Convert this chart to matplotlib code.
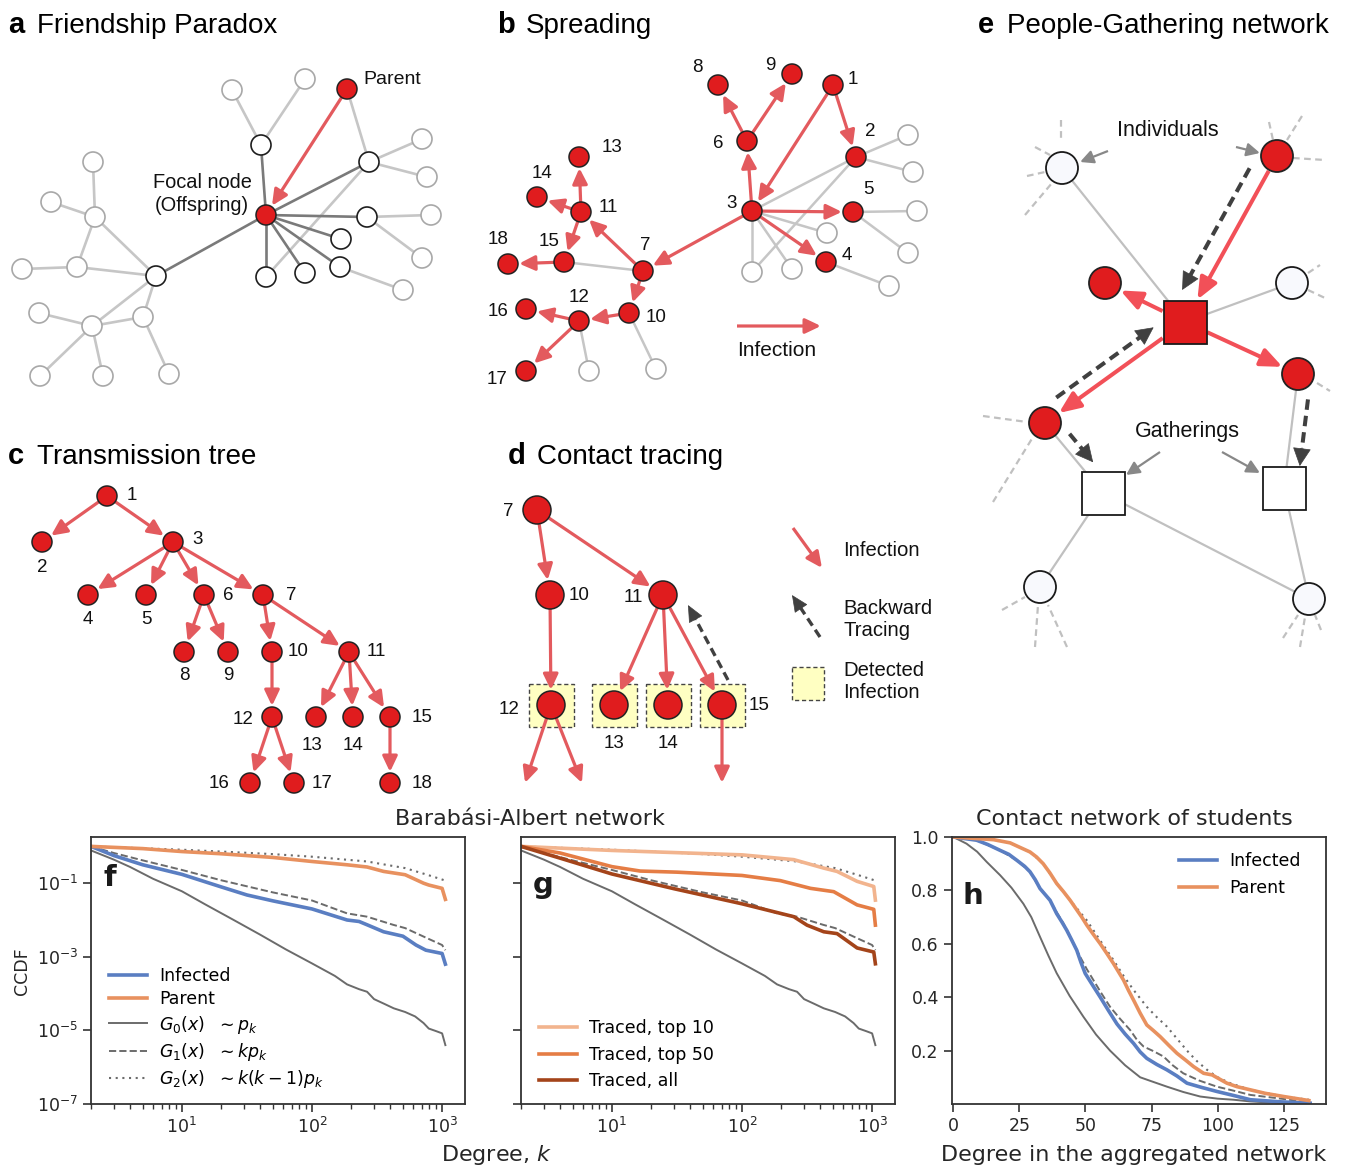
import numpy as np
import matplotlib
matplotlib.use("Agg")
import matplotlib.pyplot as plt
from matplotlib.patches import Circle, Rectangle, FancyArrowPatch
from matplotlib.ticker import NullLocator

W, H = 1349, 1169

# ---------------- diagram data (pixel layout) ----------------
# a: friendship paradox
a_nodes = {
    'P': (347, 89), 'F': (266, 215),
    'f1': (261, 145), 'f2': (369, 162), 'f3': (367, 217), 'f4': (341, 239),
    'f5': (340, 267), 'f6': (305, 273), 'f7': (266, 277), 'f8': (156, 276),
    'o1': (232, 90), 'o2': (305, 79), 'o3': (422, 139), 'o4': (427, 177),
    'o5': (431, 215), 'o6': (422, 258), 'o7': (403, 290),
    'o8': (95, 217), 'o9': (93, 162), 'o10': (51, 202), 'o11': (77, 267),
    'o12': (22, 269), 'o13': (92, 326), 'o14': (39, 313), 'o15': (143, 317),
    'o16': (40, 376), 'o17': (103, 376), 'o18': (169, 374),
}
a_friends = ['f1', 'f2', 'f3', 'f4', 'f5', 'f6', 'f7', 'f8']
a_links = [('f1', 'o1'), ('f1', 'o2'), ('P', 'f2'), ('f2', 'o3'), ('f2', 'o4'),
           ('f3', 'o5'), ('f3', 'o6'), ('f5', 'o7'), ('f7', 'f2'),
           ('o8', 'o9'), ('o8', 'o10'), ('o8', 'o11'), ('o8', 'f8'),
           ('o11', 'o12'), ('o11', 'f8'), ('f8', 'o13'), ('f8', 'o15'),
           ('o13', 'o14'), ('o13', 'o15'), ('o13', 'o16'), ('o13', 'o17'),
           ('o15', 'o18')]

# transmission tree shared by b and c
tree = [(1, 2), (1, 3), (3, 4), (3, 5), (3, 6), (3, 7), (6, 8), (6, 9),
        (7, 10), (7, 11), (10, 12), (11, 13), (11, 14), (11, 15),
        (12, 16), (12, 17), (15, 18)]

# b: spreading on the network
b_nodes = {1: (833, 85), 2: (856, 157), 3: (752, 211), 4: (826, 262),
           5: (853, 212), 6: (747, 141), 7: (643, 271), 8: (718, 85),
           9: (792, 74), 10: (629, 313), 11: (581, 212), 12: (579, 321),
           13: (579, 157), 14: (537, 197), 15: (564, 262), 16: (526, 309),
           17: (526, 371), 18: (508, 264)}
b_labels = {1: (853, 80), 2: (870, 132), 3: (732, 203), 4: (847, 255),
            5: (868, 190), 6: (718, 143), 7: (645, 246), 8: (697, 67),
            9: (770, 65), 10: (656, 318), 11: (608, 207), 12: (579, 298),
            13: (612, 147), 14: (542, 174), 15: (549, 242), 16: (498, 312),
            17: (497, 380), 18: (498, 239)}
b_healthy = [(908, 135), (913, 172), (917, 211), (908, 253), (827, 233),
             (792, 269), (752, 272), (889, 286), (589, 371), (656, 369)]
b_contacts = [(2, 0), (2, 1), (5, 2), (5, 3), (3, 4), (3, 5), (3, 6),
              (2, 6), (4, 7), (12, 8), (10, 9)]
b_plain = [(3, 2), (15, 7)]

# c: transmission tree layout
c_nodes = {1: (107, 496), 2: (42, 542), 3: (173, 542), 4: (88, 595),
           5: (146, 595), 6: (204, 595), 7: (263, 595), 8: (184, 652),
           9: (228, 652), 10: (272, 652), 11: (349, 652), 12: (272, 717),
           13: (316, 717), 14: (353, 717), 15: (390, 717), 16: (250, 783),
           17: (294, 783), 18: (390, 783)}
c_labels = {1: (132, 496), 2: (42, 567), 3: (198, 540), 4: (88, 619),
            5: (146, 619), 6: (228, 595), 7: (291, 596), 8: (184, 676),
            9: (228, 676), 10: (298, 652), 11: (376, 652), 12: (243, 719),
            13: (312, 745), 14: (353, 745), 15: (422, 718), 16: (219, 783),
            17: (322, 783), 18: (422, 783)}

# d: contact tracing
d_nodes = {7: (537, 510), 10: (550, 595), 11: (663, 595), 12: (551, 705),
           13: (614, 705), 14: (668, 705), 15: (722, 705)}
d_labels = {7: (508, 511), 10: (579, 596), 11: (633, 597), 12: (509, 710),
            13: (614, 744), 14: (668, 744), 15: (759, 705)}
d_tree = [(7, 10), (7, 11), (10, 12), (11, 13), (11, 14), (11, 15)]
d_detected = [12, 13, 14, 15]
d_onward = [(12, (525, 783)), (12, (582, 783)), (15, (722, 783))]

# e: people-gathering network
e_people = {'w1': (1062, 168), 'r1': (1277, 156), 'r2': (1105, 283),
            'w2': (1292, 283), 'r3': (1298, 374), 'r4': (1045, 423),
            'w3': (1040, 587), 'w4': (1309, 599)}
e_infected = ['r1', 'r2', 'r3', 'r4']
e_gatherings = {'g0': (1185, 322), 'g1': (1103, 493), 'g2': (1284, 488)}
e_links = [('w1', 'g0'), ('w2', 'g0'), ('r3', 'g2'), ('r4', 'g1'),
           ('w3', 'g1'), ('w4', 'g1'), ('w4', 'g2')]
e_infections = [('r1', 'g0'), ('g0', 'r2'), ('g0', 'r3'), ('g0', 'r4')]
e_traces = [('r1', 'g0', -18), ('r4', 'g0', 14), ('r4', 'g1', 12), ('r3', 'g2', 13)]
e_stubs = [((1061, 120), (1061, 140)), ((1035, 147), (1050, 155)),
           ((1027, 176), (1045, 172)), ((1025, 215), (1052, 183)),
           ((1269, 122), (1273, 140)), ((1302, 116), (1287, 140)),
           ((1293, 158), (1325, 160)), ((1308, 273), (1320, 265)),
           ((1308, 290), (1325, 298)), ((1317, 383), (1330, 391)),
           ((983, 416), (1027, 422)), ((993, 502), (1033, 437)),
           ((1002, 610), (1025, 597)), ((1035, 647), (1038, 605)),
           ((1067, 647), (1048, 605)), ((1283, 638), (1298, 615)),
           ((1300, 647), (1305, 617)), ((1321, 630), (1315, 615))]

# ---------------- CCDF data (log10 values) ----------------
k_g0 = [2, 3, 4, 6, 10, 15, 25, 40, 63, 100, 150, 186, 230, 265, 300, 360,
        425, 520, 620, 720, 790, 900, 1000, 1060]
lg_g0 = [-0.11, -0.36, -0.56, -0.88, -1.22, -1.57, -2.00, -2.40, -2.80, -3.18,
         -3.52, -3.75, -3.88, -3.95, -4.15, -4.28, -4.40, -4.50, -4.62, -4.80,
         -4.95, -5.02, -5.08, -5.40]
k_g1 = [2, 3, 5, 10, 20, 50, 100, 186, 265, 420, 520, 720, 1000, 1060]
lg_g1 = [0.0, -0.18, -0.38, -0.64, -0.92, -1.25, -1.47, -1.82, -1.91, -2.13,
         -2.22, -2.45, -2.68, -2.82]
k_g2 = [2, 10, 30, 50, 100, 265, 520, 767, 1000, 1060]
lg_g2 = [0.0, -0.09, -0.17, -0.21, -0.28, -0.41, -0.59, -0.77, -0.90, -0.93]
k_inf = [2, 3, 5, 10, 20, 31.6, 50, 100, 186, 230, 265, 355, 500, 630, 750,
         1000, 1060]
lg_inf = [0.0, -0.25, -0.50, -0.76, -1.10, -1.32, -1.48, -1.70, -2.00, -2.04,
          -2.13, -2.32, -2.44, -2.68, -2.82, -2.91, -3.20]
k_par = [2, 5, 10, 20, 50, 100, 186, 265, 355, 520, 720, 790, 1000, 1060]
lg_par = [0.0, -0.06, -0.14, -0.20, -0.30, -0.41, -0.50, -0.56, -0.68, -0.77,
          -1.00, -1.05, -1.14, -1.44]
k_top10 = [2, 10, 100, 250, 425, 538, 767, 1030, 1060]
lg_top10 = [0.0, -0.11, -0.23, -0.36, -0.59, -0.68, -0.95, -1.09, -1.46]
k_top50 = [2, 4, 6.4, 10, 16.5, 31.6, 100, 197, 336, 507, 767, 1030, 1060]
lg_top50 = [0.0, -0.18, -0.37, -0.55, -0.67, -0.70, -0.79, -0.93, -1.14,
            -1.23, -1.59, -1.71, -2.14]
k_all = [2, 4, 10, 30, 100, 250, 316, 425, 538, 767, 1030, 1060]
lg_all = [0.0, -0.32, -0.75, -1.15, -1.56, -1.91, -2.14, -2.32, -2.37, -2.76,
          -2.87, -3.19]

# contact network of students
h_deg_g0 = [0, 5, 9, 12.6, 17.7, 22, 26.5, 29.5, 32.8, 36, 39.1, 44, 49.2, 54,
            59.3, 65, 70.7, 75, 80.8, 87, 93.4, 100, 106, 112, 118.7, 126, 133.8]
h_g0 = [1.0, 0.975, 0.945, 0.907, 0.857, 0.81, 0.75, 0.70, 0.626, 0.555, 0.49,
        0.405, 0.327, 0.26, 0.20, 0.145, 0.10, 0.085, 0.065, 0.045, 0.028, 0.02,
        0.016, 0.01, 0.006, 0.004, 0.003]
h_deg_inf = [0, 8.8, 13, 17.7, 21, 24, 27, 29, 31, 32.8, 34.7, 36.6, 39.1, 41,
             42.9, 44.8, 46.7, 48.3, 49.9, 52.7, 55.6, 58.7, 61.9, 65, 68.2,
             70.7, 73.2, 77, 80.8, 84.6, 88.4, 94, 99.7, 106, 112.4, 124, 135]
h_inf = [1.0, 0.988, 0.972, 0.95, 0.935, 0.913, 0.89, 0.87, 0.84, 0.807, 0.785,
         0.763, 0.713, 0.683, 0.651, 0.614, 0.576, 0.53, 0.489, 0.445, 0.40,
         0.35, 0.30, 0.262, 0.227, 0.195, 0.171, 0.148, 0.128, 0.105, 0.078,
         0.062, 0.047, 0.032, 0.016, 0.008, 0.003]
h_deg_g1 = [0, 8.8, 17.7, 24, 29, 32.8, 36.6, 39, 41.7, 45, 48, 50.5, 53, 56,
            59.3, 63, 66.9, 69.5, 72, 75.7, 79.5, 83, 87, 93, 99.7, 106, 112.4,
            124, 135]
h_g1 = [1.0, 0.988, 0.95, 0.913, 0.87, 0.807, 0.763, 0.72, 0.676, 0.61, 0.551,
        0.505, 0.464, 0.415, 0.364, 0.32, 0.277, 0.24, 0.215, 0.198, 0.178,
        0.145, 0.115, 0.088, 0.065, 0.05, 0.034, 0.02, 0.006]
h_deg_par = [0, 15.2, 21.5, 25, 29, 31.5, 34, 36.5, 39.1, 41.7, 44.2, 46.5,
             48.6, 50.5, 53, 55.6, 58, 60.6, 62.5, 64.4, 66.3, 68.2, 70.7, 73.2,
             75.7, 78.3, 81.5, 84.6, 87.8, 90.9, 94.7, 97.9, 103.5, 107.3, 112.4,
             118, 125, 134.5]
h_par = [1.0, 0.99, 0.978, 0.962, 0.944, 0.925, 0.90, 0.866, 0.826, 0.795,
         0.763, 0.73, 0.70, 0.67, 0.635, 0.60, 0.565, 0.526, 0.495, 0.464,
         0.425, 0.389, 0.34, 0.296, 0.275, 0.252, 0.22, 0.19, 0.165, 0.14,
         0.115, 0.109, 0.078, 0.065, 0.053, 0.04, 0.028, 0.013]
h_deg_g2 = [0, 15.2, 21.5, 29, 34, 39.1, 44.2, 50.5, 55.6, 60.6, 64.4, 68.2,
            73.2, 77, 80.8, 84.6, 88.4, 92, 96, 100, 104.8, 112.4, 125, 134.5]
h_g2 = [1.0, 0.99, 0.978, 0.944, 0.90, 0.826, 0.763, 0.688, 0.612, 0.539, 0.48,
        0.427, 0.364, 0.325, 0.29, 0.245, 0.20, 0.162, 0.128, 0.10, 0.078,
        0.053, 0.028, 0.016]

# ---------------- styles ----------------
RED = '#e01c1e'
ARED = '#e35a5e'
ERED = '#f25058'
DARK = '#404040'
EDGE_D = '#7a7a7a'
EDGE_L = '#c6c6c6'
SANS = 'Liberation Sans'
BLUE = '#5a7ec2'
ORANGE = '#e8915f'
GRAY = '#6b6b6b'
TXT = '#262626'

plt.rcParams['font.family'] = 'DejaVu Sans'
plt.rcParams['mathtext.fontset'] = 'dejavusans'

fig = plt.figure(figsize=(W / 100, H / 100), dpi=100)
ax = fig.add_axes([0, 0, 1, 1])
ax.set_xlim(0, W)
ax.set_ylim(H, 0)
ax.axis('off')


def unit(p, q):
    d = np.subtract(q, p).astype(float)
    return d / np.hypot(*d)


def trim(p, q, ra, rb):
    u = unit(p, q)
    return tuple(np.add(p, u * ra)), tuple(np.subtract(q, u * rb))


def sq_gap(p, q, half=21.5):
    u = unit(p, q)
    return half / max(abs(u[0]), abs(u[1]))


def node(p, r=10, fc=RED, ec='#222222', lw=1.1, z=6):
    ax.add_patch(Circle(p, r, fc=fc, ec=ec, lw=lw, zorder=z))


def line(p, q, color=EDGE_L, lw=1.8, z=2, **kw):
    ax.plot([p[0], q[0]], [p[1], q[1]], color=color, lw=lw, zorder=z,
            solid_capstyle='butt', **kw)


def arrow(p, q, color=ARED, lw=2.2, hl=0.95, hw=0.45, ms=10, z=4):
    ax.add_patch(FancyArrowPatch(p, q, arrowstyle=f'-|>,head_length={hl},head_width={hw}',
                                 mutation_scale=ms, color=color, lw=lw, shrinkA=0,
                                 shrinkB=0, zorder=z, capstyle='butt'))


def dashed_arrow(p, q, color=DARK, lw=2.9, hl=1.2, hw=0.6, ms=10):
    u = unit(p, q)
    base = np.subtract(q, u * hl * ms * 100 / 72)
    ax.plot([p[0], base[0]], [p[1], base[1]], color=color, lw=lw, dashes=(2.6, 1.5),
            zorder=4, dash_capstyle='butt')
    arrow(tuple(base - u * 2), q, color=color, lw=0.5, hl=hl, hw=hw, ms=ms)


def label(p, s, size=13.5, **kw):
    kw.setdefault('ha', 'center')
    ax.text(p[0], p[1], s, fontsize=size, family=SANS, va='center', color='#111111', **kw)


def panel_title(x, letter, title, y=33):
    ax.text(x, y, letter, fontsize=21, fontweight='bold', family=SANS, va='baseline')
    ax.text(x + 29, y, title, fontsize=20, family=SANS, va='baseline')


# ---------------- a ----------------
panel_title(8, 'a', 'Friendship Paradox')
for s, t in a_links:
    line(a_nodes[s], a_nodes[t], color=EDGE_L, lw=1.9)
for f in a_friends:
    line(a_nodes['F'], a_nodes[f], color=EDGE_D, lw=1.9, z=3)
for name, p in a_nodes.items():
    if name in ('P', 'F'):
        node(p)
    elif name in a_friends:
        node(p, fc='white', ec='#1e1e1e', lw=1.2)
    else:
        node(p, fc='white', ec='#a8a8a8', lw=1.2)
s, e = trim(a_nodes['P'], a_nodes['F'], 10, 11)
arrow(s, e, lw=2.3)
label((363, 80), 'Parent', size=14, ha='left')
label((202, 194), 'Focal node\n(Offspring)', size=14.4, linespacing=1.25)

# ---------------- b ----------------
panel_title(497, 'b', 'Spreading')
for i, j in b_contacts:
    line(b_nodes[i], b_healthy[j])
for i, j in b_plain:
    line(b_nodes[i], b_nodes[j])
for p in b_healthy:
    node(p, fc='white', ec='#a8a8a8', lw=1.2)
for i, j in tree:
    s, e = trim(b_nodes[i], b_nodes[j], 10, 11)
    arrow(s, e, lw=2.3)
for i, p in b_nodes.items():
    node(p)
    label(b_labels[i], str(i))
arrow((737, 326), (821, 326), lw=2.3)
label((777, 350), 'Infection', size=15)

# ---------------- c ----------------
panel_title(8, 'c', 'Transmission tree', y=464)
for i, j in tree:
    s, e = trim(c_nodes[i], c_nodes[j], 10, 11)
    arrow(s, e, lw=2.3)
for i, p in c_nodes.items():
    node(p)
    label(c_labels[i], str(i))

# ---------------- d ----------------
panel_title(508, 'd', 'Contact tracing', y=464)
for i in d_detected:
    x, y = d_nodes[i]
    ax.add_patch(Rectangle((x - 22.5, y - 21.5), 45, 43, fc='#ffffc2', ec='#444444',
                           lw=1.0, ls=(0, (3, 2)), zorder=1))
for i, j in d_tree:
    s, e = trim(d_nodes[i], d_nodes[j], 14, 15)
    arrow(s, e, lw=2.3)
for i, q in d_onward:
    s, _ = trim(d_nodes[i], q, 14, 0)
    arrow(s, q, lw=2.3)
dashed_arrow((728, 680), (688, 605), lw=2.4, hl=1.1, hw=0.5)
for i, p in d_nodes.items():
    node(p, r=14)
    label(d_labels[i], str(i))
arrow((793, 528), (822, 568), lw=2.3)
label((843, 550), 'Infection', size=14.6, ha='left')
dashed_arrow((820, 637), (792, 595), lw=2.4, hl=1.1, hw=0.5)
label((843, 619), 'Backward\nTracing', size=14.6, ha='left', linespacing=1.2)
ax.add_patch(Rectangle((792, 667), 32, 33, fc='#ffffc2', ec='#444444', lw=1.0,
                       ls=(0, (3, 2)), zorder=1))
label((843, 681), 'Detected\nInfection', size=14.6, ha='left', linespacing=1.2)

# ---------------- e ----------------
panel_title(978, 'e', 'People-Gathering network')
e_all = {**e_people, **e_gatherings}
for p, q in e_stubs:
    line(p, q, color='#c0c0c0', lw=1.6, z=1, dashes=(3, 2))
for s, t in e_links:
    line(e_all[s], e_all[t], color='#c0c0c0', lw=1.6)


def gap(name, other):
    if name in e_gatherings:
        return sq_gap(e_all[name], e_all[other])
    return 16


for s, t in e_infections:
    p, q = trim(e_all[s], e_all[t], gap(s, t) + 1, gap(t, s) + 1)
    arrow(p, q, color=ERED, lw=2.9, hl=1.3, hw=0.55)
for s, t, off in e_traces:
    u = unit(e_all[s], e_all[t])
    n = np.array([u[1], -u[0]])
    p, q = trim(e_all[s], e_all[t], gap(s, t) + 8, gap(t, s) + 2)
    dashed_arrow(tuple(np.add(p, n * off)), tuple(np.add(q, n * off)))
for name, p in e_people.items():
    if name in e_infected:
        node(p, r=16, lw=1.3)
    else:
        node(p, r=16, fc='#f8f9fd', ec='#1a1a1a', lw=1.3)
for name, (x, y) in e_gatherings.items():
    ax.add_patch(Rectangle((x - 21.5, y - 21.5), 43, 43, fc=RED if name == 'g0' else 'white',
                           ec='#1a1a1a', lw=1.3, zorder=6))
label((1168, 131), 'Individuals', size=15.5)
label((1187, 432), 'Gatherings', size=15.5)
arrow((1108, 151), (1080, 162), color='#888888', lw=1.6, hl=0.8, hw=0.4)
arrow((1236, 147), (1260, 153), color='#888888', lw=1.6, hl=0.8, hw=0.4)
arrow((1160, 452), (1126, 475), color='#888888', lw=1.6, hl=0.8, hw=0.4)
arrow((1222, 452), (1260, 473), color='#888888', lw=1.6, hl=0.8, hw=0.4)

# ---------------- f, g, h ----------------
ax.text(530, 819, 'Barabási-Albert network', ha='center', va='center', fontsize=16, color=TXT)
ax.text(1134, 819, 'Contact network of students', ha='center', va='center', fontsize=16, color=TXT)
ax.text(497, 1155, 'Degree, $k$', ha='center', va='center', fontsize=16, color=TXT)
ax.text(1134, 1155, 'Degree in the aggregated network', ha='center', va='center',
        fontsize=16, color=TXT)
ax.text(22, 971, 'CCDF', rotation=90, ha='center', va='center', fontsize=12.5, color=TXT)


def box(l, t, r, b):
    return [l / W, 1 - b / H, (r - l) / W, (b - t) / H]


def style(a):
    for sp in a.spines.values():
        sp.set_color('#333333')
        sp.set_linewidth(1.3)
    a.tick_params(which='major', length=6, width=1.2, color='#333333', labelsize=12.5,
                  labelcolor=TXT, direction='out')
    a.tick_params(which='minor', length=3.5, width=1.0, color='#333333')


def powers(v):
    return 10 ** np.array(v)


def log_axes(rect, show_ylabels):
    a = fig.add_axes(rect)
    style(a)
    a.set_xscale('log')
    a.set_yscale('log')
    a.set_xlim(2, 1500)
    a.set_ylim(1e-7, 1.8)
    a.set_yticks([1e-7, 1e-5, 1e-3, 1e-1])
    a.yaxis.set_minor_locator(NullLocator())
    if not show_ylabels:
        a.set_yticklabels([])
    a.plot(k_g0, powers(lg_g0), color=GRAY, lw=1.4, label=r'$G_0(x)\ \ \sim p_k$')
    a.plot(k_g1, powers(lg_g1), color=GRAY, lw=1.4, ls='--', label=r'$G_1(x)\ \ \sim kp_k$')
    a.plot(k_g2, powers(lg_g2), color=GRAY, lw=1.5, dashes=(1, 2.2),
           label=r'$G_2(x)\ \ \sim k(k-1)p_k$')
    return a


leg_kw = dict(frameon=False, fontsize=12.5, borderpad=0, handlelength=2.2,
              handletextpad=0.7)

axf = log_axes(box(91, 837, 465, 1104), True)
axf.plot(k_inf, powers(lg_inf), color=BLUE, lw=2.6, label='Infected')
axf.plot(k_par, powers(lg_par), color=ORANGE, lw=2.6, label='Parent')
hs, ls = axf.get_legend_handles_labels()
order = [3, 4, 0, 1, 2]
axf.legend([hs[i] for i in order], [ls[i] for i in order], loc='lower left',
           bbox_to_anchor=(0.025, 0.02), labelspacing=0.3, **leg_kw)
axf.text(0.033, 0.815, 'f', transform=axf.transAxes, fontsize=21, fontweight='bold',
         va='baseline', color='#1a1a1a')

axg = log_axes(box(521, 837, 895, 1104), False)
axg.plot(k_top10, powers(lg_top10), color='#f2b48e', lw=2.6, label='Traced, top 10')
axg.plot(k_top50, powers(lg_top50), color='#e57d45', lw=2.6, label='Traced, top 50')
axg.plot(k_all, powers(lg_all), color='#a4441a', lw=2.6, label='Traced, all')
hs, ls = axg.get_legend_handles_labels()
axg.legend(hs[3:], ls[3:], loc='lower left', bbox_to_anchor=(0.025, 0.02),
           labelspacing=0.48, **leg_kw)
axg.text(0.032, 0.79, 'g', transform=axg.transAxes, fontsize=21, fontweight='bold',
         va='baseline', color='#1a1a1a')

axh = fig.add_axes(box(952, 837, 1326, 1104))
style(axh)
axh.plot(h_deg_g0, h_g0, color=GRAY, lw=1.4)
axh.plot(h_deg_g1, h_g1, color=GRAY, lw=1.4, ls='--')
axh.plot(h_deg_g2, h_g2, color=GRAY, lw=1.5, dashes=(1, 2.2))
axh.plot(h_deg_inf, h_inf, color=BLUE, lw=2.6, label='Infected')
axh.plot(h_deg_par, h_par, color=ORANGE, lw=2.6, label='Parent')
axh.set_xlim(-0.5, 141)
axh.set_ylim(0, 1)
axh.set_xticks([0, 25, 50, 75, 100, 125])
axh.set_yticks([0.2, 0.4, 0.6, 0.8, 1.0])
axh.legend(loc='upper right', bbox_to_anchor=(0.955, 0.975), labelspacing=0.48, **leg_kw)
axh.text(0.027, 0.75, 'h', transform=axh.transAxes, fontsize=21, fontweight='bold',
         va='baseline', color='#1a1a1a')

fig.savefig('out.png', dpi=100)
